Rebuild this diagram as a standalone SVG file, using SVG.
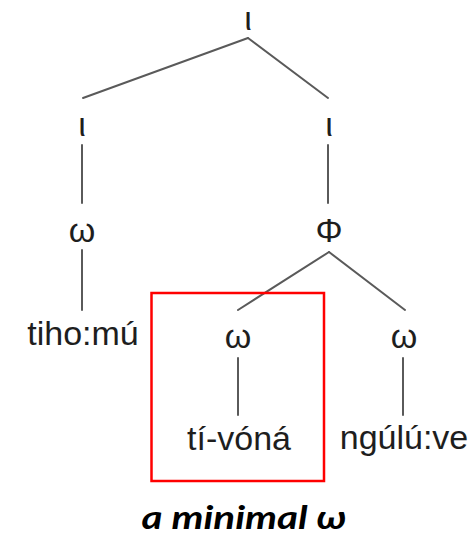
<svg xmlns="http://www.w3.org/2000/svg" width="472" height="535" viewBox="0 0 472 535">
  <style>
    .lbl { font-family: "Liberation Sans", Arial, sans-serif; font-size: 34px; fill: #1e1e1e; text-anchor: middle; }
    .edge { stroke: #5a5a5a; stroke-width: 2; fill: none; stroke-linecap: round; }
    .cap { font-family: Lato, "Open Sans", sans-serif; font-size: 32px; font-weight: bold; font-style: italic; fill: #000; text-anchor: middle; }
  </style>
  <rect width="472" height="535" fill="#fff"/>

  <g id="connectors">
    <line class="edge" x1="248" y1="38" x2="83" y2="98"/>
    <line class="edge" x1="248" y1="38" x2="328" y2="98"/>
    <line class="edge" x1="82" y1="145" x2="82" y2="203"/>
    <line class="edge" x1="82" y1="250" x2="82" y2="310"/>
    <line class="edge" x1="328" y1="145" x2="328" y2="203"/>
    <line class="edge" x1="329" y1="252" x2="238" y2="310"/>
    <line class="edge" x1="329" y1="252" x2="405" y2="310"/>
    <line class="edge" x1="238" y1="358" x2="238" y2="415"/>
    <line class="edge" x1="403" y1="358" x2="403" y2="415"/>
  </g>

  <g id="root"><text class="lbl" x="248" y="30">ι</text></g>
  <g id="iota-left"><text class="lbl" x="82" y="136">ι</text></g>
  <g id="iota-right"><text class="lbl" x="329" y="136">ι</text></g>
  <g id="omega-left"><text class="lbl" x="82" y="242">ω</text></g>
  <g id="phi"><text class="lbl" x="329" y="242">Φ</text></g>
  <g id="word-tihomu"><text class="lbl" x="83" y="345">tiho:mú</text></g>
  <g id="omega-mid"><text class="lbl" x="238" y="348">ω</text></g>
  <g id="omega-right"><text class="lbl" x="404" y="348">ω</text></g>
  <g id="word-tivona"><text class="lbl" x="239" y="450">tí-vóná</text></g>
  <g id="word-ngulu"><text class="lbl" x="404" y="449">ngúlú:ve</text></g>

  <g id="highlight">
    <rect x="151.5" y="293" width="172.5" height="188" fill="none" stroke="#ff0000" stroke-width="2.5"/>
  </g>

  <g id="caption">
    <text class="cap" x="244" y="529" textLength="205" lengthAdjust="spacingAndGlyphs">a minimal ω</text>
  </g>
</svg>
